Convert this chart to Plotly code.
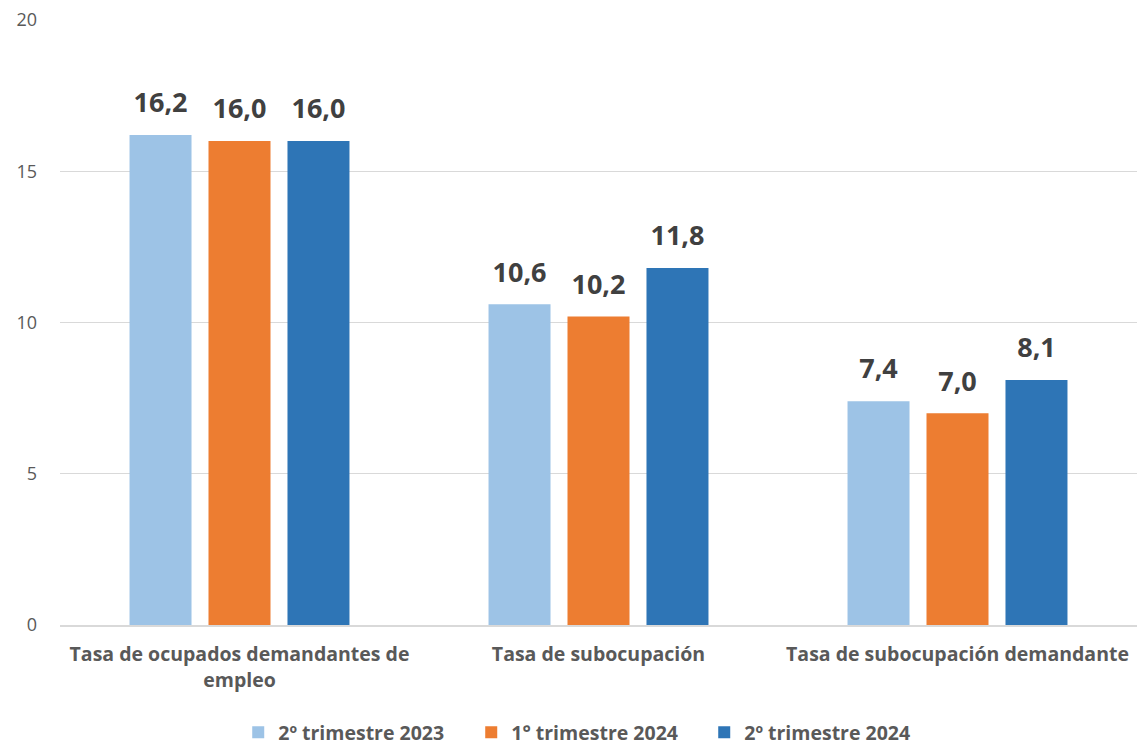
import plotly.graph_objects as go

categories = ["Tasa de ocupados demandantes de<br>empleo", "Tasa de subocupación", "Tasa de subocupación demandante"]
series_names = ["2º trimestre 2023", "1° trimestre 2024", "2º trimestre 2024"]
values_2t2023 = [16.2, 10.6, 7.4]
values_1t2024 = [16.0, 10.2, 7.0]
values_2t2024 = [16.0, 11.8, 8.1]
colors = ["#9DC3E6", "#ED7D31", "#2E75B6"]

FONT = "'Open Sans', sans-serif"

fig = go.Figure()
all_vals = [values_2t2023, values_1t2024, values_2t2024]
for i, (name, vals, col) in enumerate(zip(series_names, all_vals, colors)):
    fig.add_trace(go.Bar(
        x=categories, y=vals, name=name, marker=dict(color=col, line=dict(width=0)),
        offsetgroup=str(i), hoverinfo="skip",
    ))
for i, vals in enumerate(all_vals):
    fig.add_trace(go.Scatter(
        x=categories, y=vals, mode="markers+text", offsetgroup=str(i),
        text=[f"{v:.1f}".replace(".", ",") for v in vals], textposition="top center",
        textfont=dict(size=27, color="#404040", family=FONT, weight="bold"),
        marker=dict(size=24, opacity=0), showlegend=False, cliponaxis=False, hoverinfo="skip",
    ))

fig.update_layout(
    width=1137, height=747,
    margin=dict(l=60, r=0, t=20, b=122, autoexpand=False),
    paper_bgcolor="white", plot_bgcolor="white",
    separators=",.",
    barmode="group", bargap=0.34, bargroupgap=0.215,
    scattermode="group", scattergap=0.34,
    font=dict(family=FONT, color="#595959"),
    showlegend=True,
    legend=dict(orientation="h", x=0.49, xanchor="center", y=-0.178, yanchor="middle",
                font=dict(size=19.5, color="#595959", family=FONT, weight="bold"),
                itemwidth=30, entrywidth=188, traceorder="normal"),
    yaxis=dict(range=[0, 20], dtick=5, showgrid=True, gridcolor="#D9D9D9", gridwidth=1,
               zeroline=False, showline=False, ticks="", ticklabelstandoff=22, automargin=False,
               tickfont=dict(size=18, color="#595959", family=FONT)),
    xaxis=dict(showline=True, linecolor="#D9D9D9", linewidth=1.5, ticks="", automargin=False,
               ticklabelstandoff=11,
               tickfont=dict(size=19.5, color="#595959", family=FONT, weight="bold")),
)

fig.write_html("out.html", config={"displayModeBar": False},
               post_script="document.body.style.margin='0';document.body.style.padding='0';")
